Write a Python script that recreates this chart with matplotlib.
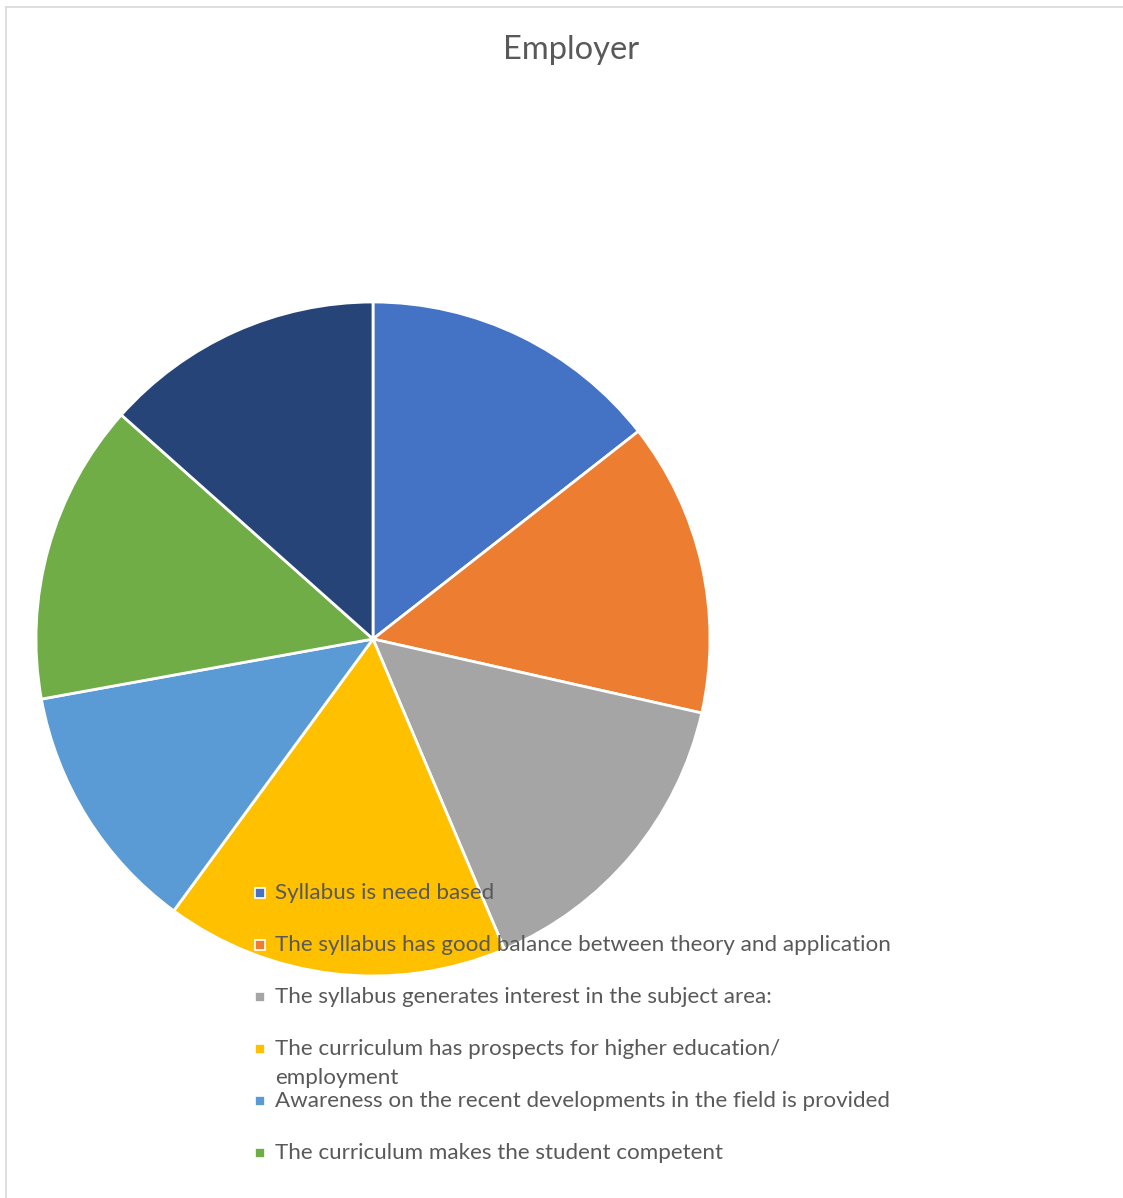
import matplotlib.pyplot as plt
from matplotlib.patches import Rectangle
from matplotlib.lines import Line2D

# mean scores given by employers, one per statement
statements = [
    "Syllabus is need based",
    "The syllabus has good balance between theory and application",
    "The syllabus generates interest in the subject area:",
    "The curriculum has prospects for higher education/\nemployment",
    "Awareness on the recent developments in the field is provided",
    "The curriculum makes the student competent",
    "The curriculum is relevant to industry needs",
]
scores = [4.3, 4.2, 4.5, 4.9, 3.6, 4.3, 4.0]
slice_colors = ["#4472C4", "#ED7D31", "#A5A5A5", "#FFC000", "#5B9BD5", "#70AD47", "#264478"]

# the legend in the original only shows the first six rows
legend_rows = 6

W, H = 1123, 1198
fig = plt.figure(figsize=(W / 100, H / 100), dpi=100)
plt.rcParams["font.family"] = ["Lato", "DejaVu Sans"]
text_color = "#595959"

# pie, centre at (373, 639) px, radius 337 px
cx, cy, r = 373, 639, 337
ax = fig.add_axes([(cx - r) / W, (H - cy - r) / H, 2 * r / W, 2 * r / H])
ax.pie(scores, colors=slice_colors, startangle=90, counterclock=False,
       wedgeprops=dict(edgecolor="white", linewidth=2.0))
ax.set_xlim(-1, 1)
ax.set_ylim(-1, 1)
ax.axis("off")

fig.text(571 / W, 1 - 50 / H, "Employer", ha="center", va="center",
         fontsize=23.5, color=text_color)

# chart area border (top and left only are visible)
fig.add_artist(Line2D([6 / W, 6 / W], [0, 1 - 7 / H], color="#D9D9D9", lw=1.2))
fig.add_artist(Line2D([6 / W, 1], [1 - 7 / H, 1 - 7 / H], color="#D9D9D9", lw=1.2))

# legend, drawn by hand so the wrapped row keeps the even spacing
row_y = 893
for i in range(legend_rows):
    fig.add_artist(Rectangle((255 / W, 1 - (row_y + 5) / H), 10 / W, 10 / H,
                             facecolor=slice_colors[i], edgecolor="white", lw=1.2))
    for k, line in enumerate(statements[i].split("\n")):
        fig.text(275 / W, 1 - (row_y + 29 * k) / H, line, ha="left", va="center",
                 fontsize=16.1, color=text_color)
    row_y += 52

fig.savefig("out.png", dpi=100)
